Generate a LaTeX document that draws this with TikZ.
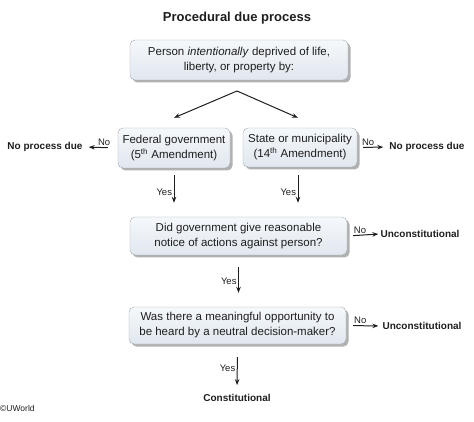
\documentclass[tikz,border=0pt]{standalone}
\usepackage{fontspec}
\setmainfont{Liberation Sans}
\usetikzlibrary{arrows.meta,positioning,shadows}
\definecolor{cA}{HTML}{1E1E1E}
\definecolor{cB}{HTML}{A4A9AF}
\definecolor{cC}{HTML}{F5F8FB}
\definecolor{cD}{HTML}{E0E7EE}
\definecolor{cS}{HTML}{A8A8A8}
\tikzset{
  qbox/.style={rounded corners=5pt,draw=cB,top color=cC,bottom color=cD,
              drop shadow={shadow xshift=2.5pt,shadow yshift=-2.5pt,fill=cS,opacity=.9},
              inner sep=2pt,align=center,text=cA,
              font=\fontsize{11.5}{15}\selectfont},
  outcome/.style={font=\fontsize{10}{12}\selectfont\bfseries,text=cA,inner sep=1pt},
  tag/.style={font=\fontsize{9.5}{10}\selectfont,text=cA,inner sep=1.5pt},
  flow/.style={-{Stealth[length=6pt,width=4.5pt]},line width=1pt,cA},
}

\begin{document}
\begin{tikzpicture}[x=1pt,y=-1pt]
  \useasboundingbox (0,0) rectangle (474,422);
  \node[font=\fontsize{13}{15}\selectfont\bfseries,text=cA] (title) at (237,18) {Procedural due process};
  \node[qbox,minimum width=218pt,minimum height=40pt] (person) at (239,60)
     {Person \textit{intentionally} deprived of life,\\liberty, or property by:};
  \coordinate (split) at (237,91);
  \node[qbox,minimum width=112pt,minimum height=40pt] (fed) at (174,148)
     {Federal government\\(5\textsuperscript{th} Amendment)};
  \node[qbox,minimum width=114pt,minimum height=39pt] (state) at (300,147.5)
     {State or municipality\\(14\textsuperscript{th} Amendment)};
  \node[outcome] (noleft) at (45,147) {No process due};
  \node[outcome] (noright) at (427,147) {No process due};
  \node[qbox,minimum width=217pt,minimum height=38pt] (notice) at (238.5,236)
     {Did government give reasonable\\notice of actions against person?};
  \node[outcome] (unA) at (420,234) {Unconstitutional};
  \node[qbox,minimum width=217pt,minimum height=37pt] (heard) at (237.5,325.5)
     {Was there a meaningful opportunity to\\be heard by a neutral decision-maker?};
  \node[outcome] (unB) at (422,326) {Unconstitutional};
  \node[outcome] (const) at (237,398) {Constitutional};
  \node[font=\fontsize{8.5}{9}\selectfont,text=cA,anchor=west,inner sep=0pt] (mark) at (0,408) {\copyright UWorld};

  % branch to the two kinds of government
  \draw[flow] (split) -- ([yshift=10pt]fed.north);
  \draw[flow] (split) -- ([xshift=-2pt,yshift=10pt]state.north);
  \draw[flow,shorten <=10pt,shorten >=5pt] (fed.west) -- (noleft.east)
     node[tag,pos=.4,above]{No};
  \draw[flow,shorten <=6pt,shorten >=5pt] (state.east) -- (noright.west)
     node[tag,pos=.35,above]{No};
  \draw[flow,shorten <=7pt,shorten >=14pt] (fed.south) -- (fed.south |- notice.north)
     node[tag,midway,left]{Yes};
  \draw[flow,shorten <=8pt,shorten >=14pt] ([xshift=-2pt]state.south) -- ([xshift=-2pt]state.south |- notice.north)
     node[tag,midway,left]{Yes};

  % the two questions
  \draw[flow,shorten <=6pt,shorten >=1pt] (notice.east) -- (unA.west)
     node[tag,pos=.4,above]{No};
  \draw[flow,shorten <=12pt,shorten >=14pt] (notice.south) -- (notice.south |- heard.north)
     node[tag,midway,left]{Yes};
  \draw[flow,shorten <=7pt,shorten >=3pt] (heard.east) -- (unB.west)
     node[tag,pos=.4,above]{No};
  \draw[flow,shorten <=13pt,shorten >=8pt] (heard.south) -- (const.north)
     node[tag,midway,left]{Yes};
\end{tikzpicture}
\end{document}
